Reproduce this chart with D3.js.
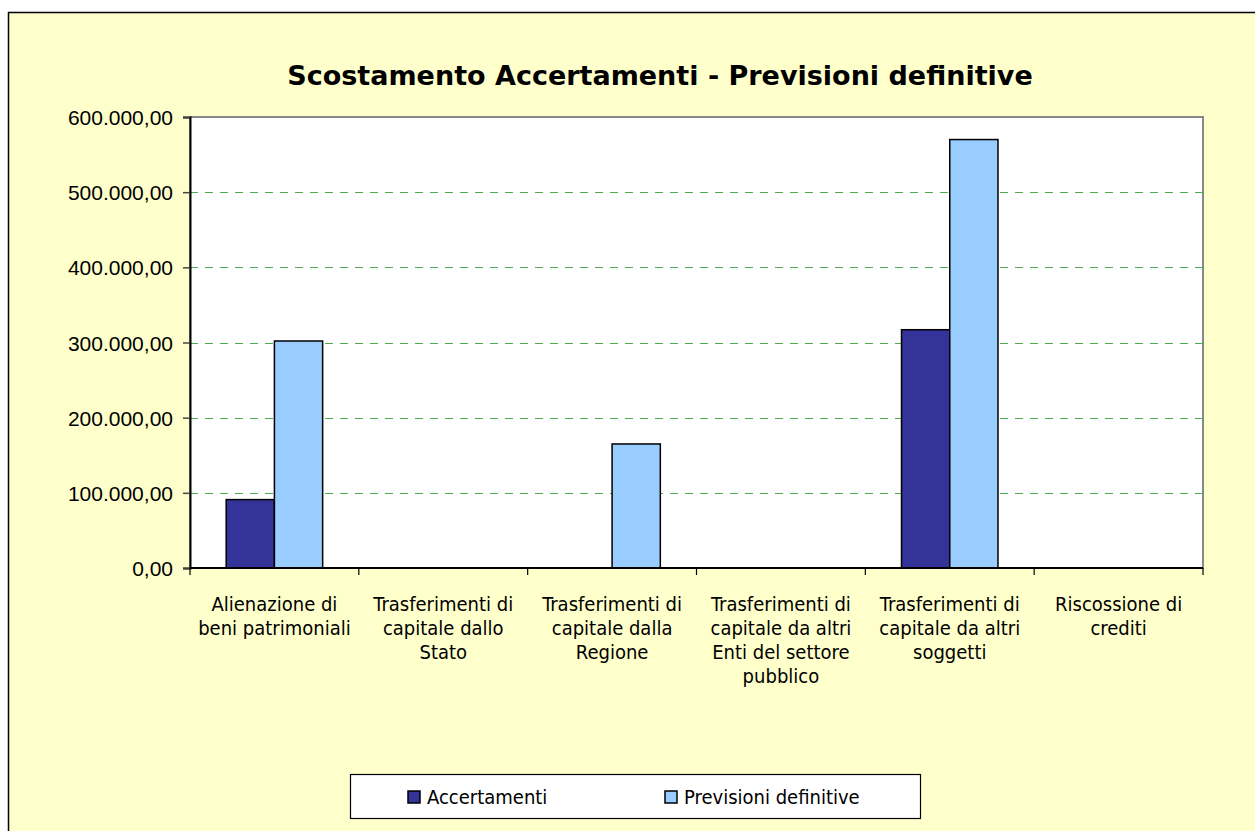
<!DOCTYPE html>
<html>
<head>
<meta charset="utf-8">
<script src="https://cdn.jsdelivr.net/npm/d3@7"></script>
<style>
  body { margin: 0; background: #fff; }
  svg { display: block; font-family: "DejaVu Sans Condensed", "DejaVu Sans", sans-serif; }
</style>
</head>
<body>
<svg id="chart" width="1255" height="831"></svg>
<script>
// data
const categories = [
  "Alienazione di\nbeni patrimoniali",
  "Trasferimenti di\ncapitale dallo\nStato",
  "Trasferimenti di\ncapitale dalla\nRegione",
  "Trasferimenti di\ncapitale da altri\nEnti del settore\npubblico",
  "Trasferimenti di\ncapitale da altri\nsoggetti",
  "Riscossione di\ncrediti"
];
const seriesNames = ["Accertamenti", "Previsioni definitive"];
const accertamenti = [91000, 0, 0, 0, 317000, 0];
const previsioni = [302000, 0, 165000, 0, 570000, 0];
const yTicks = [0, 100000, 200000, 300000, 400000, 500000, 600000];
const colors = ["#333399", "#99ccff"];

const svg = d3.select("#chart");
const W = 1255, H = 831;
const plot = {left: 190, right: 1203, top: 117, bottom: 568};

const itLocale = d3.formatLocale({decimal: ",", thousands: ".", grouping: [3], currency: ["€", ""]});
const fmt = itLocale.format(",.2f");

// chart background
svg.append("rect")
  .attr("x", 8.5).attr("y", 12.5)
  .attr("width", W + 10).attr("height", H + 10)
  .attr("fill", "#ffffcc").attr("stroke", "#000").attr("stroke-width", 1.5);

svg.append("text")
  .attr("x", 660).attr("y", 85)
  .attr("text-anchor", "middle")
  .attr("font-family", "DejaVu Sans")
  .attr("font-weight", "bold")
  .attr("font-size", 27)
  .text("Scostamento Accertamenti - Previsioni definitive");

let x = d3.scaleBand().domain(d3.range(categories.length)).range([plot.left, plot.right]).padding(0);
let xs = d3.scaleBand().domain(seriesNames).range([0, x.bandwidth()]).paddingInner(0).paddingOuter(0.75);
let y = d3.scaleLinear().domain([0, 600000]).range([plot.bottom, plot.top]);

// plot area
svg.append("rect")
  .attr("x", plot.left).attr("y", plot.top)
  .attr("width", plot.right - plot.left).attr("height", plot.bottom - plot.top)
  .attr("fill", "#fff").attr("stroke", "#888").attr("stroke-width", 2);

// gridlines
svg.append("g").selectAll("line")
  .data(yTicks.filter(d => d > 0 && d < 600000))
  .enter().append("line")
  .attr("x1", plot.left).attr("x2", plot.right)
  .attr("y1", d => Math.round(y(d)) + 0.5).attr("y2", d => Math.round(y(d)) + 0.5)
  .attr("stroke", "#4fab4f").attr("stroke-width", 1.2)
  .attr("stroke-dasharray", "8,7");

// bars
const rows = categories.map((c, i) => [accertamenti[i], previsioni[i]]);
const groups = svg.append("g").selectAll("g")
  .data(rows).enter().append("g")
  .attr("transform", (d, i) => "translate(" + x(i) + ",0)");
groups.selectAll("rect")
  .data(d => d.map((v, j) => ({v: v, s: seriesNames[j], j: j})).filter(e => e.v > 0))
  .enter().append("rect")
  .attr("x", d => xs(d.s))
  .attr("width", xs.bandwidth())
  .attr("y", d => y(d.v))
  .attr("height", d => y(0) - y(d.v))
  .attr("fill", d => colors[d.j])
  .attr("stroke", "#000").attr("stroke-width", 1.5);

// y axis
const yAxis = svg.append("g")
  .attr("transform", "translate(" + plot.left + ",0)")
  .call(d3.axisLeft(y).tickValues(yTicks).tickSize(7).tickPadding(10).tickFormat(fmt));
yAxis.select(".domain").attr("stroke", "#000").attr("stroke-width", 2);
yAxis.selectAll(".tick line").attr("stroke", "#444").attr("stroke-width", 1.5);
yAxis.selectAll("text").attr("font-size", 21).attr("fill", "#000").attr("dy", "0.36em");

// x axis
const xAxis = svg.append("g")
  .attr("transform", "translate(0," + plot.bottom + ")");
xAxis.append("line")
  .attr("x1", plot.left).attr("x2", plot.right)
  .attr("stroke", "#000").attr("stroke-width", 2);
xAxis.selectAll(".xt")
  .data(d3.range(categories.length + 1))
  .enter().append("line")
  .attr("x1", i => (i < categories.length ? x(i) : plot.right))
  .attr("x2", i => (i < categories.length ? x(i) : plot.right))
  .attr("y1", 0).attr("y2", 7)
  .attr("stroke", "#000").attr("stroke-width", 1.2);
const labels = xAxis.selectAll(".xl")
  .data(categories).enter().append("text")
  .attr("text-anchor", "middle")
  .attr("font-size", 20)
  .attr("transform", (d, i) => "translate(" + (x(i) + x.bandwidth() / 2) + ",43)");
labels.selectAll("tspan")
  .data(d => d.split("\n"))
  .enter().append("tspan")
  .attr("x", 0).attr("dy", (d, k) => (k === 0 ? 0 : 24))
  .text(d => d);

// legend
const lg = svg.append("g");
lg.append("rect")
  .attr("x", 350.5).attr("y", 774.5).attr("width", 570).attr("height", 44)
  .attr("fill", "#fff").attr("stroke", "#000").attr("stroke-width", 1.2);
const legendX = [408, 665];
seriesNames.forEach((s, j) => {
  lg.append("rect")
    .attr("x", legendX[j]).attr("y", 791).attr("width", 12).attr("height", 12)
    .attr("fill", colors[j]).attr("stroke", "#000").attr("stroke-width", 1.5);
  lg.append("text")
    .attr("x", legendX[j] + 19).attr("y", 804)
    .attr("font-size", 20)
    .text(s);
});
</script>
</body>
</html>
